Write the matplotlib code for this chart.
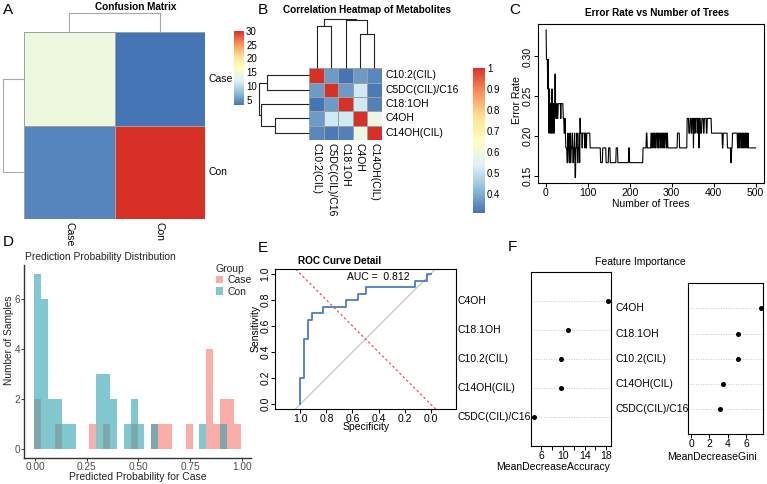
import numpy as np
import matplotlib
matplotlib.use("Agg")
import matplotlib.pyplot as plt
from matplotlib.colors import LinearSegmentedColormap
from matplotlib.patches import Patch

plt.rcParams['font.family'] = ['Liberation Sans', 'DejaVu Sans']
plt.rcParams['font.size'] = 7

# ---------------- data ----------------
conf_labels = ['Case', 'Con']
conf_matrix = [[14, 3], [4, 30]]
conf_merges = [(0, 1, 1.0)]

metabolites = ['C10:2(CIL)', 'C5DC(CIL)/C16', 'C18:1OH', 'C4OH', 'C14OH(CIL)']
corr_matrix = [[1.00, 0.37, 0.31, 0.37, 0.34],
               [0.37, 1.00, 0.37, 0.52, 0.32],
               [0.31, 0.37, 1.00, 0.52, 0.33],
               [0.37, 0.52, 0.52, 1.00, 0.58],
               [0.34, 0.32, 0.33, 0.58, 1.00]]
corr_merges = [(0, 1, 0.84), (3, 4, 0.68), (2, 6, 0.96), (5, 7, 1.0)]

n_oob = 54
err_k = [18, 16, 14, 16, 13, 11, 14, 12, 11, 13, 11, 14, 12, 11, 13, 11, 12,
         15, 12, 13, 12, 13, 12, 13, 12, 11, 12, 11,
         10, 9, 11, 10, 9, 11, 9, 10, 11, 9, 10, 11, 8, 10, 11, 9, 10, 11, 9, 12, 11, 10, 11, 10, 11, 10, 11,
         10, 9, 10, 9, 10, 9, 10, 9, 10, 9, 10, 11, 10,
         11, 10, 11, 10, 11, 10, 11, 10, 11, 10, 11, 10, 11, 10, 11, 10, 11, 10, 11, 10,
         10, 11, 10,
         12, 11, 12, 11, 12, 10, 12, 11, 12, 11, 12, 10, 12, 11, 12, 11, 12, 11, 12,
         11, 10, 11, 10, 9, 10, 11,
         10, 11, 10, 11, 10, 11, 10, 11, 10, 11, 10, 11, 10, 11,
         10]
err_len = [1, 3, 1, 1, 1, 1, 1, 1, 1, 2, 1, 1, 1, 2, 1, 1, 1,
           2, 3, 1, 2, 6, 1, 5, 2, 2, 1, 1,
           3, 2, 1, 2, 2, 1, 2, 2, 2, 2, 2, 1, 2, 2, 2, 2, 2, 1, 1, 1, 4, 1, 5, 1, 2, 2, 8,
           25, 5, 8, 6, 4, 14, 4, 26, 2, 32, 8, 2, 9,
           2, 2, 3, 1, 2, 2, 3, 1, 2, 2, 3, 2, 3, 2, 2, 2, 3, 1, 2, 1,
           22, 5, 18,
           4, 3, 3, 2, 3, 1, 2, 2, 4, 1, 3, 1, 3, 3, 4, 2, 5, 2, 10,
           26, 2, 10, 8, 2, 2, 12,
           2, 2, 1, 3, 2, 2, 1, 2, 2, 3, 1, 2, 2, 1,
           18]

prob_min, prob_max = 0.0134, 0.978
case_counts = [2, 0, 0, 1, 0, 0, 0, 0, 1, 0, 1, 0, 0, 0, 1, 0, 0, 1, 1, 1,
               0, 0, 1, 0, 0, 4, 1, 2, 2, 1]
con_counts = [7, 6, 2, 2, 1, 1, 0, 0, 0, 3, 3, 2, 0, 1, 2, 1, 0, 1, 0, 0,
              0, 0, 0, 0, 1, 0, 0, 1, 0, 0]

roc_spec = [1.0, 0.971, 0.941, 0.912, 0.824, 0.647, 0.559, 0.5, 0.118, 0.029, 0.0]
roc_sens = [0.0, 0.2, 0.5, 0.65, 0.7, 0.75, 0.8, 0.85, 0.9, 0.95, 1.0]
auc_value = 0.812

imp_features = ['C5DC(CIL)/C16', 'C14OH(CIL)', 'C10.2(CIL)', 'C18.1OH', 'C4OH']
mean_dec_acc = [4.67, 9.6, 9.7, 11.0, 18.3]
mean_dec_gini = [3.19, 3.48, 5.09, 5.16, 7.58]

# ---------------- helpers ----------------
W, H = 767, 484
fig = plt.figure(figsize=(W / 100, H / 100), dpi=100)
PT = 0.72  # px -> points


def add_ax(x0, y0, x1, y1):
    return fig.add_axes([x0 / W, 1 - y1 / H, (x1 - x0) / W, (y1 - y0) / H])


def ftxt(x, y, s, **kw):
    kw.setdefault('ha', 'center')
    kw.setdefault('va', 'center')
    return fig.text(x / W, 1 - y / H, s, **kw)


heat_cmap = LinearSegmentedColormap.from_list(
    'ph', ['#4575B4', '#91BFDB', '#E0F3F8', '#FFFFBF', '#FEE090', '#FC8D59', '#D73027'])


def draw_dendro(ax, merges, n, orient, color, lw=0.8):
    pos = {i: i + 0.5 for i in range(n)}
    hgt = {i: 0.0 for i in range(n)}
    for j, (a, b, h) in enumerate(merges):
        xs = [pos[a], pos[a], pos[b], pos[b]]
        ys = [hgt[a], h, h, hgt[b]]
        if orient == 'top':
            ax.plot(xs, ys, color=color, lw=lw, clip_on=False, solid_capstyle='butt')
        else:
            ax.plot(ys, xs, color=color, lw=lw, clip_on=False, solid_capstyle='butt')
        pos[n + j] = (pos[a] + pos[b]) / 2
        hgt[n + j] = h
    mh = max(m[2] for m in merges)
    if orient == 'top':
        ax.set_xlim(0, n); ax.set_ylim(0, mh)
    else:
        ax.set_xlim(mh, 0); ax.set_ylim(n, 0)
    ax.axis('off')


def draw_heat(ax, M, labels, vmin, vmax, fs=7.5):
    M = np.asarray(M, float)
    n = M.shape[0]
    ax.pcolormesh(np.arange(n + 1), np.arange(n + 1), M, cmap=heat_cmap, vmin=vmin, vmax=vmax,
                  edgecolors='#A0A0A0', linewidth=0.6)
    ax.set_xlim(0, n); ax.set_ylim(n, 0)
    ax.axis('off')
    for i, lab in enumerate(labels):
        ax.annotate(lab, xy=(n, i + 0.5), xytext=(2.5, 0), textcoords='offset points',
                    ha='left', va='center', fontsize=fs, annotation_clip=False)
        ax.annotate(lab, xy=(i + 0.5, n), xytext=(0, -2.5), textcoords='offset points',
                    ha='center', va='top', rotation=270, fontsize=fs, annotation_clip=False)


def draw_cbar(ax, vmin, vmax, ticks, labels):
    grad = np.linspace(vmin, vmax, 256)[:, None]
    ax.imshow(grad, aspect='auto', cmap=heat_cmap, origin='lower', extent=(0, 1, vmin, vmax),
              vmin=vmin, vmax=vmax)
    ax.set_xticks([])
    ax.yaxis.tick_right()
    ax.set_yticks(ticks)
    ax.set_yticklabels(labels)
    ax.tick_params(axis='y', length=0, pad=1.5, labelsize=7)
    for s in ax.spines.values():
        s.set_visible(False)


def r_style(ax, pad=1.5):
    for s in ax.spines.values():
        s.set_linewidth(0.8)
        s.set_color('black')
    ax.tick_params(direction='out', length=2.6, width=0.7, labelsize=7, pad=pad)


def rot_ylabels(ax):
    for t in ax.get_yticklabels():
        t.set_rotation(90)
        t.set_va('center')


# ---------------- A: confusion matrix ----------------
axA = add_ax(24, 32, 205, 219)
cm = np.asarray(conf_matrix, float)
draw_heat(axA, cm, conf_labels, cm.min(), cm.max())
draw_dendro(add_ax(24, 13, 205, 32), conf_merges, 2, 'top', '#A8A8A8')
draw_dendro(add_ax(3, 32, 24, 219), conf_merges, 2, 'left', '#A8A8A8')
draw_cbar(add_ax(234, 31, 244, 105), cm.min(), cm.max(), [5, 10, 15, 20, 25, 30],
          ['5', '10', '15', '20', '25', '30'])
ftxt(135.5, 7, 'Confusion Matrix', fontweight='bold', fontsize=7.2)
ftxt(2.5, 10, 'A', fontsize=11, ha='left')

# ---------------- B: correlation heatmap ----------------
cr = np.asarray(corr_matrix, float)
axB = add_ax(309.3, 68.3, 381.7, 140)
draw_heat(axB, cr, metabolites, cr.min(), cr.max())
draw_dendro(add_ax(309.3, 18.5, 381.7, 68.3), corr_merges, 5, 'top', '#222222', lw=0.8)
draw_dendro(add_ax(259, 68.3, 309.3, 140), corr_merges, 5, 'left', '#222222', lw=0.8)
draw_cbar(add_ax(473.3, 68.3, 485, 213.3), cr.min(), cr.max(), [0.4, 0.5, 0.6, 0.7, 0.8, 0.9, 1.0],
          ['0.4', '0.5', '0.6', '0.7', '0.8', '0.9', '1'])
ftxt(367, 10, 'Correlation Heatmap of Metabolites', fontweight='bold', fontsize=7.2)
ftxt(257.5, 10.5, 'B', fontsize=11, ha='left')

# ---------------- C: error rate ----------------
axC = add_ax(537.7, 24, 764, 183.3)
err = np.repeat(np.asarray(err_k, float) / n_oob, err_len)
trees = np.arange(1, len(err) + 1)
axC.plot(trees, err, color='black', lw=0.8)
xr = trees.max() - trees.min()
axC.set_xlim(trees.min() - 0.04 * xr, trees.max() + 0.04 * xr)
yr = err.max() - err.min()
axC.set_ylim(err.min() - 0.04 * yr, err.max() + 0.04 * yr)
axC.set_xticks([0, 100, 200, 300, 400, 500])
axC.set_yticks([0.15, 0.20, 0.25, 0.30])
axC.set_yticklabels(['0.15', '0.20', '0.25', '0.30'])
r_style(axC, pad=1.0)
axC.tick_params(labelsize=7.5)
rot_ylabels(axC)
ftxt(656.7, 13.5, 'Error Rate vs Number of Trees', fontweight='bold', fontsize=7.2)
ftxt(650.8, 204, 'Number of Trees', fontsize=7.5)
ftxt(516.5, 100, 'Error Rate', rotation=90, fontsize=7.5)
ftxt(509.5, 9.5, 'C', fontsize=11, ha='left')

# ---------------- D: histogram ----------------
axD = add_ax(24, 265.2, 251, 458.1)
nb = len(case_counts)
bw = (prob_max - prob_min) / (nb - 1)
centers = prob_min + bw * np.arange(nb)
axD.bar(centers, case_counts, width=bw, color='#F8766D', alpha=0.6, lw=0)
axD.bar(centers, con_counts, width=bw, color='#2BA3B2', alpha=0.6, lw=0)
lo, hi = centers[0] - bw / 2, centers[-1] + bw / 2
axD.set_xlim(lo - 0.05 * (hi - lo), hi + 0.05 * (hi - lo))
ym = max(max(case_counts), max(con_counts))
axD.set_ylim(-0.05 * ym, ym * 1.05)
axD.set_xticks([0, 0.25, 0.5, 0.75, 1.0])
axD.set_xticklabels(['0.00', '0.25', '0.50', '0.75', '1.00'])
axD.set_yticks([0, 2, 4, 6])
for s in ['top', 'right']:
    axD.spines[s].set_visible(False)
for s in ['left', 'bottom']:
    axD.spines[s].set_color('#333333')
    axD.spines[s].set_linewidth(1.0)
axD.tick_params(direction='out', length=2.3, width=0.7, color='#333333', labelcolor='#4D4D4D',
                labelsize=7.3, pad=0.6)
ftxt(25, 257.5, 'Prediction Probability Distribution', ha='left', color='#222222', fontsize=7.4)
ftxt(138, 477.5, 'Predicted Probability for Case', color='#222222', fontsize=7.5)
ftxt(9, 340, 'Number of Samples', rotation=90, color='#222222', fontsize=7.3)
ftxt(2.5, 242.5, 'D', fontsize=11, ha='left')
handles = [Patch(facecolor='#F8766D', alpha=0.6, lw=0, label='Case'),
           Patch(facecolor='#2BA3B2', alpha=0.6, lw=0, label='Con')]
leg = fig.legend(handles=handles, title='Group', loc='upper left',
                 bbox_to_anchor=(215.5 / W, 1 - 263.5 / H), frameon=False, fontsize=7.5,
                 title_fontsize=7.5, handlelength=0.75, handleheight=0.75, handletextpad=0.4,
                 labelspacing=0.15, borderpad=0, borderaxespad=0)
leg._legend_box.align = 'left'
for t in leg.get_texts():
    t.set_color('#222222')
leg.get_title().set_color('#222222')

# ---------------- E: ROC ----------------
axE = add_ax(275, 268.8, 456, 409.2)
axE.axline((1, 0), (0, 1), color='#B0B0B0', lw=0.6)
axE.axline((0, 0), (1, 1), color='#FF3344', lw=0.8, ls=(0, (2.2, 2.2)))
axE.step(roc_spec, roc_sens, where='pre', color='#4A7CC6', lw=1.3)
axE.set_xlim(1.196, -0.196)
axE.set_ylim(-0.04, 1.04)
axE.set_xticks([1.0, 0.8, 0.6, 0.4, 0.2, 0.0])
axE.set_xticklabels(['1.0', '0.8', '0.6', '0.4', '0.2', '0.0'])
axE.set_yticks([0.0, 0.2, 0.4, 0.6, 0.8, 1.0])
axE.set_yticklabels(['0.0', '0.2', '0.4', '0.6', '0.8', '1.0'])
r_style(axE, pad=0.6)
axE.tick_params(labelsize=7.5)
rot_ylabels(axE)
axE.text(0.646, 0.98, 'AUC =  %.3f' % auc_value, ha='left', va='center', fontsize=7.5)
ftxt(340, 261.5, 'ROC Curve Detail', fontweight='bold', fontsize=7.2)
ftxt(366, 427.5, 'Specificity', fontsize=7.5)
ftxt(256, 328, 'Sensitivity', rotation=90, fontsize=7.5)
ftxt(257.5, 247.5, 'E', fontsize=11, ha='left')

# ---------------- F: variable importance ----------------
rows = np.arange(1, len(imp_features) + 1)


def dot_panel(ax, vals, xlim, ticks, ticklabels, label_px):
    ax.hlines(rows, xlim[0], xlim[1], colors='#B5B5B5', linestyles=(0, (1, 2)), lw=0.6)
    ax.plot(vals, rows, 'o', color='black', ms=2.6)
    ax.set_xlim(*xlim)
    ax.set_ylim(0, len(rows) + 1)
    ax.set_yticks([])
    ax.set_xticks(ticks)
    ax.set_xticklabels(ticklabels)
    r_style(ax, pad=1.0)
    ax.tick_params(labelsize=7.5)
    for r, lab in zip(rows, imp_features):
        ax.annotate(lab, xy=(0, r), xycoords=('axes fraction', 'data'),
                    xytext=(-label_px * PT, 0), textcoords='offset points',
                    ha='left', va='center', fontsize=7.5, annotation_clip=False)


axF1 = add_ax(530.7, 271.7, 611, 446)
a = np.asarray(mean_dec_acc)
ar = a.max() - a.min()
dot_panel(axF1, a, (a.min() - 0.04 * ar, a.max() + 0.04 * ar), [6, 8, 10, 12, 14, 16, 18],
          ['6', '', '10', '', '14', '', '18'], 530.7 - 457)
axF2 = add_ax(688.3, 283.3, 763.3, 434)
g = np.asarray(mean_dec_gini)
dot_panel(axF2, g, (-0.04 * g.max(), g.max() * 1.04), [0, 2, 4, 6], ['0', '2', '4', '6'],
          688.3 - 615)
ftxt(553, 467.5, 'MeanDecreaseAccuracy', fontsize=7.5)
ftxt(711.5, 457, 'MeanDecreaseGini', fontsize=7.5)
ftxt(640, 261.7, 'Feature Importance', fontsize=7.5)
ftxt(507.5, 247, 'F', fontsize=11, ha='left')

fig.savefig('out.png', dpi=100)
